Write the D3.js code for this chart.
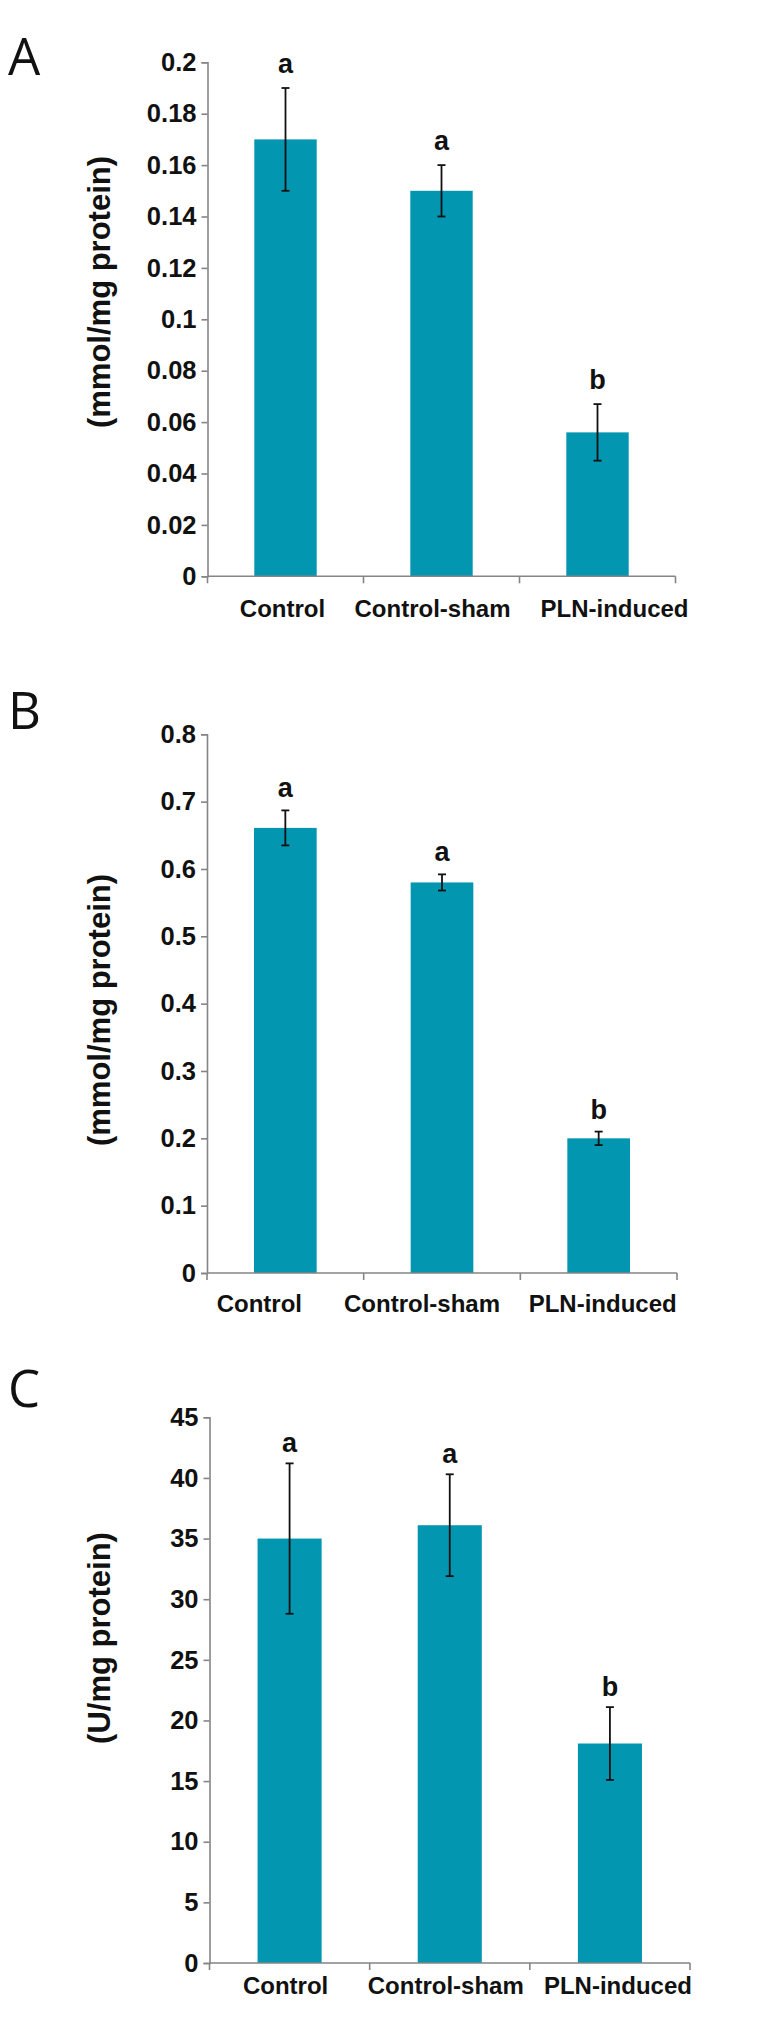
<!DOCTYPE html>
<html>
<head>
<meta charset="utf-8">
<script src="https://cdn.jsdelivr.net/npm/d3@7"></script>
<style>
  html, body { margin: 0; padding: 0; background: #ffffff; }
  svg { display: block; }
</style>
</head>
<body>
<div id="chart"></div>
<script>
// ---------------- data ----------------
const categories = ["Control", "Control-sham", "PLN-induced"];
const letters = ["a", "a", "b"];

const valuesA = [0.17, 0.15, 0.056];
const errorsA = [0.02, 0.01, 0.011];
const ticksA = [0, 0.02, 0.04, 0.06, 0.08, 0.1, 0.12, 0.14, 0.16, 0.18, 0.2];
const tickLabelsA = ["0", "0.02", "0.04", "0.06", "0.08", "0.1", "0.12", "0.14", "0.16", "0.18", "0.2"];

const valuesB = [0.661, 0.58, 0.2];
const errorsB = [0.026, 0.012, 0.01];
const ticksB = [0, 0.1, 0.2, 0.3, 0.4, 0.5, 0.6, 0.7, 0.8];
const tickLabelsB = ["0", "0.1", "0.2", "0.3", "0.4", "0.5", "0.6", "0.7", "0.8"];

const valuesC = [35.0, 36.1, 18.1];
const errorsC = [6.2, 4.2, 3.0];
const ticksC = [0, 5, 10, 15, 20, 25, 30, 35, 40, 45];
const tickLabelsC = ["0", "5", "10", "15", "20", "25", "30", "35", "40", "45"];

const panelLetters = ["A", "B", "C"];
const yLabels = ["(mmol/mg protein)", "(mmol/mg protein)", "(U/mg protein)"];

// ---------------- layout ----------------
const W = 771, H = 2044;
const barColor = "#0296b1";
const axisColor = "#858585";

const panels = [
  { letter: panelLetters[0], values: valuesA, errors: errorsA, ticks: ticksA, tickLabels: tickLabelsA, yLabel: yLabels[0],
    x0: 207.5, x1: 675.5, yTop: 62.3, yZero: 576.3, letterY: 75, yLabelCenter: 292,
    labelOffsets: [-3, -9, 17], labelDy: 41, letterGap: 15 },
  { letter: panelLetters[1], values: valuesB, errors: errorsB, ticks: ticksB, tickLabels: tickLabelsB, yLabel: yLabels[1],
    x0: 207, x1: 677, yTop: 734.3, yZero: 1273, letterY: 729, yLabelCenter: 1010,
    labelOffsets: [-26, -20, 4], labelDy: 39, letterGap: 13 },
  { letter: panelLetters[2], values: valuesC, errors: errorsC, ticks: ticksC, tickLabels: tickLabelsC, yLabel: yLabels[2],
    x0: 209.5, x1: 690, yTop: 1417.3, yZero: 1963, letterY: 1407, yLabelCenter: 1638,
    labelOffsets: [-4, -4, 8], labelDy: 31, letterGap: 11 }
];

const svg = d3.select("#chart").append("svg")
  .attr("width", W).attr("height", H)
  .attr("viewBox", `0 0 ${W} ${H}`);

const boldFont = "'Liberation Sans', Arial, sans-serif";

panels.forEach(p => {
  const g = svg.append("g");

  const x = d3.scaleBand().domain(categories).range([p.x0, p.x1]).padding(0);
  const y = d3.scaleLinear().domain([0, d3.max(p.ticks)]).range([p.yZero, p.yTop]);
  const barW = x.bandwidth() * 0.4;

  // panel letter
  g.append("text")
    .attr("x", 8).attr("y", p.letterY)
    .attr("font-family", "'Open Sans', 'DejaVu Sans', sans-serif")
    .attr("font-size", 51).attr("fill", "#111")
    .text(p.letter);

  // bars
  g.selectAll("rect.bar").data(p.values).enter().append("rect")
    .attr("class", "bar")
    .attr("x", (d, i) => x(categories[i]) + x.bandwidth() / 2 - barW / 2)
    .attr("width", barW)
    .attr("y", d => y(d))
    .attr("height", d => y(0) - y(d))
    .attr("fill", barColor);

  // y axis
  const yAxis = d3.axisLeft(y).tickValues(p.ticks)
    .tickFormat((d, i) => p.tickLabels[i]).tickSize(6).tickPadding(5);
  const ya = g.append("g").attr("transform", `translate(${p.x0},0)`).call(yAxis);
  ya.select(".domain").attr("stroke", axisColor).attr("stroke-width", 1.6);
  ya.selectAll(".tick line").attr("stroke", axisColor).attr("stroke-width", 1.6);
  ya.selectAll(".tick text").attr("font-family", boldFont).attr("font-weight", "bold")
    .attr("font-size", 25.5).attr("fill", "#111");

  // x axis line and boundary ticks
  const xa = g.append("g");
  xa.append("line").attr("x1", p.x0).attr("x2", p.x1)
    .attr("y1", y(0)).attr("y2", y(0))
    .attr("stroke", axisColor).attr("stroke-width", 1.6);
  const bounds = categories.map(c => x(c)).concat([p.x1]);
  xa.selectAll("line.bt").data(bounds).enter().append("line")
    .attr("class", "bt")
    .attr("x1", d => d).attr("x2", d => d)
    .attr("y1", y(0)).attr("y2", y(0) + 7)
    .attr("stroke", axisColor).attr("stroke-width", 1.6);

  // category labels
  g.selectAll("text.cat").data(categories).enter().append("text")
    .attr("class", "cat")
    .attr("x", (d, i) => x(d) + x.bandwidth() / 2 + p.labelOffsets[i])
    .attr("y", y(0) + p.labelDy)
    .attr("text-anchor", "middle")
    .attr("font-family", boldFont).attr("font-weight", "bold")
    .attr("font-size", 24).attr("fill", "#111")
    .text(d => d);

  // error bars
  const cap = 4;
  p.values.forEach((v, i) => {
    const cx = x(categories[i]) + x.bandwidth() / 2;
    const hi = y(v + p.errors[i]), lo = y(v - p.errors[i]);
    g.append("line").attr("x1", cx).attr("x2", cx).attr("y1", hi).attr("y2", lo)
      .attr("stroke", "#111").attr("stroke-width", 1.8);
    g.append("line").attr("x1", cx - cap).attr("x2", cx + cap).attr("y1", hi).attr("y2", hi)
      .attr("stroke", "#111").attr("stroke-width", 1.8);
    g.append("line").attr("x1", cx - cap).attr("x2", cx + cap).attr("y1", lo).attr("y2", lo)
      .attr("stroke", "#111").attr("stroke-width", 1.8);
    // significance letter
    g.append("text")
      .attr("x", cx).attr("y", hi - p.letterGap)
      .attr("text-anchor", "middle")
      .attr("font-family", boldFont).attr("font-weight", "bold")
      .attr("font-size", 27).attr("fill", "#111")
      .text(letters[i]);
  });

  // y label
  g.append("text")
    .attr("transform", `translate(110,${p.yLabelCenter}) rotate(-90)`)
    .attr("text-anchor", "middle")
    .attr("font-family", boldFont).attr("font-weight", "bold")
    .attr("font-size", 31).attr("fill", "#111")
    .text(p.yLabel);
});
</script>
</body>
</html>
